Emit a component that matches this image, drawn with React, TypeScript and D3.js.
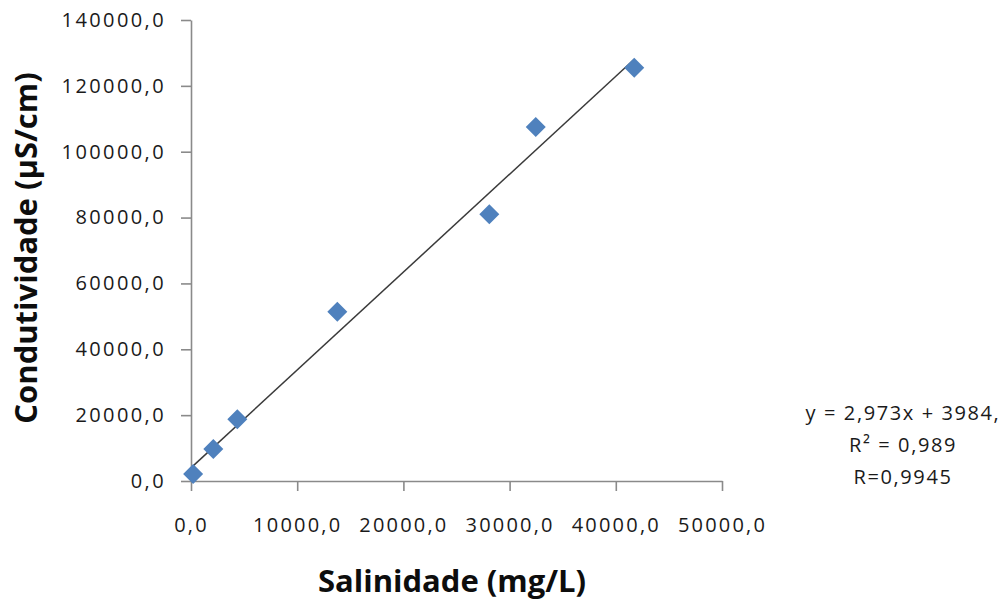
import * as d3 from "d3";
import React, { useEffect, useRef } from "react";

// salinidade (mg/L) vs condutividade (µS/cm)
const salinidade = [200, 2100, 4360, 13780, 28090, 32460, 41740];
const condutividade = [2100, 9720, 18740, 51420, 81000, 107500, 125520];

const xTicks = [0, 10000, 20000, 30000, 40000, 50000];
const yTicks = [0, 20000, 40000, 60000, 80000, 100000, 120000, 140000];

const slope = 2.973;
const intercept = 3984;
const equationLines = ["y = 2,973x + 3984,", "R² = 0,989", "R=0,9945"];

const fmt = (v: number) => v.toFixed(1).replace(".", ",");

const App = () => {
	const svgRef = useRef<SVGSVGElement>(null);

	useEffect(() => {
		if (!svgRef.current) return;
		const svg = d3.select(svgRef.current);
		svg.selectAll("*").remove();

		const left = 191;
		const right = 722;
		const top = 20;
		const bottom = 481;

		const x = d3.scaleLinear().domain([0, 50000]).range([left, right]);
		const y = d3.scaleLinear().domain([0, 140000]).range([bottom, top]);

		const axisColor = "#8a8a8a";
		const font = "'Open Sans', sans-serif";

		// y axis
		const yAxis = svg
			.append("g")
			.attr("transform", `translate(${left},0)`)
			.call(d3.axisLeft(y).tickValues(yTicks).tickSize(10).tickSizeOuter(0).tickFormat((d) => fmt(+d)).tickPadding(15));
		yAxis.select(".domain").attr("stroke", axisColor).attr("stroke-width", 1.6);
		yAxis.selectAll(".tick line").attr("stroke", axisColor).attr("stroke-width", 1.6);
		yAxis
			.selectAll(".tick text")
			.attr("fill", "#1a1a1a")
			.style("font-family", font)
			.style("font-size", "20px")
			.style("letter-spacing", "2.4px");

		// x axis
		const xAxis = svg
			.append("g")
			.attr("transform", `translate(0,${bottom})`)
			.call(d3.axisBottom(x).tickValues(xTicks).tickSize(10).tickSizeOuter(0).tickFormat((d) => fmt(+d)).tickPadding(27));
		xAxis.select(".domain").attr("stroke", axisColor).attr("stroke-width", 1.6);
		xAxis.selectAll(".tick line").attr("stroke", axisColor).attr("stroke-width", 1.6);
		xAxis
			.selectAll(".tick text")
			.attr("fill", "#1a1a1a")
			.style("font-family", font)
			.style("font-size", "20px")
			.style("letter-spacing", "2.2px");

		// trendline
		const xMin = d3.min(salinidade) || 0;
		const xMax = d3.max(salinidade) || 0;
		svg
			.append("line")
			.attr("x1", x(xMin))
			.attr("y1", y(slope * xMin + intercept))
			.attr("x2", x(xMax))
			.attr("y2", y(slope * xMax + intercept))
			.attr("stroke", "#3a3a3a")
			.attr("stroke-width", 1.5);

		// points
		const diamond = d3.symbol().type(d3.symbolSquare).size(200);
		svg
			.append("g")
			.selectAll("path")
			.data(salinidade.map((s, i) => [s, condutividade[i]]))
			.enter()
			.append("path")
			.attr("d", diamond)
			.attr("transform", (d) => `translate(${x(d[0])},${y(d[1])}) rotate(45)`)
			.attr("fill", "#4f81bd");

		// equation
		svg
			.append("g")
			.selectAll("text")
			.data(equationLines)
			.enter()
			.append("text")
			.attr("x", 903)
			.attr("y", (d, i) => 420 + i * 32)
			.attr("text-anchor", "middle")
			.style("font-family", font)
			.style("font-size", "20px")
			.style("letter-spacing", "1.6px")
			.attr("fill", "#1a1a1a")
			.text((d) => d);

		// titles
		svg
			.append("text")
			.attr("transform", "rotate(-90)")
			.attr("x", -248)
			.attr("y", 37)
			.attr("text-anchor", "middle")
			.style("font-family", font)
			.style("font-weight", "bold")
			.style("font-size", "31px")
			.attr("fill", "#0d0d0d")
			.text("Condutividade (µS/cm)");

		svg
			.append("text")
			.attr("x", 452)
			.attr("y", 592)
			.attr("text-anchor", "middle")
			.style("font-family", font)
			.style("font-weight", "bold")
			.style("font-size", "31px")
			.attr("fill", "#0d0d0d")
			.text("Salinidade (mg/L)");
	}, []);

	return (
		<svg
			ref={svgRef}
			width={1002}
			height={600}
			style={{ position: "absolute", left: 0, top: 0, background: "#fff" }}
		/>
	);
};

export default App;
